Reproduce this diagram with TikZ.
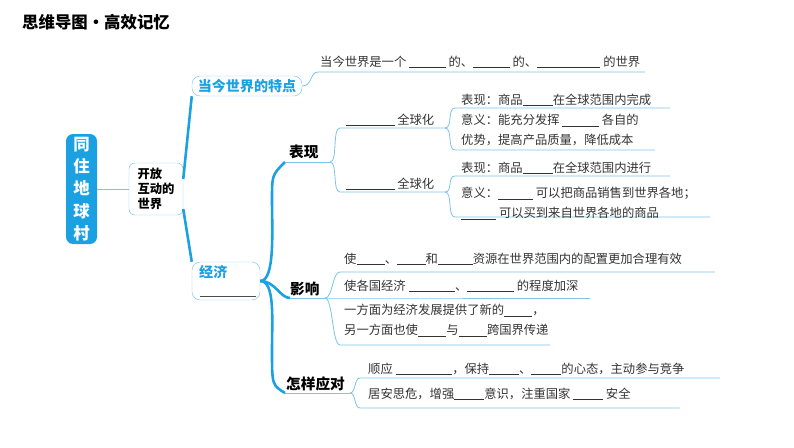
\documentclass[tikz,border=0pt]{standalone}
\usepackage{fontspec}
\setmainfont{Noto Sans CJK SC}
\newcommand{\bl}[1]{\rule[-1.5pt]{#1}{0.5pt}}
\definecolor{tblue}{HTML}{1BA1E2}
\definecolor{lblue}{HTML}{7CC4E8}
\tikzset{
  txt/.style={anchor=base west,inner sep=0pt,font=\fontsize{10.5}{17}\selectfont,align=left,text=black!80},
  txtm/.style={txt,anchor=north west},
  lbl/.style={anchor=base west,inner sep=0pt,font=\fontsize{12.5}{15}\selectfont\bfseries,text=black},
  thin/.style={draw=lblue,line width=0.7pt},
  thick/.style={draw=tblue,line width=2.2pt},
}
\begin{document}
\begin{tikzpicture}[x=0.03cm,y=-0.03cm]
\useasboundingbox (0,0) rectangle (794,447);
\node[anchor=west,inner sep=0pt,font=\fontsize{14}{16}\selectfont\bfseries] (title) at (22,22) {思维导图·高效记忆};
% root
\node[fill=tblue,text=white,rounded corners=6pt,minimum width=0.93cm,minimum height=3.3cm,align=center,font=\fontsize{14}{19}\selectfont\bfseries,inner sep=0pt] (root) at (81.5,189) {同\\住\\地\\球\\村};
\node[draw=lblue,rounded corners=5pt,minimum width=1.62cm,minimum height=1.56cm,align=left,font=\fontsize{10.5}{13}\selectfont\bfseries,inner sep=2pt] (open) at (156,189) {开放\\互动的\\世界};
\draw[thin] (root.east) -- (open.west);
% top-level branches
\node[draw=lblue,rounded corners=7pt,minimum width=3.3cm,minimum height=0.6cm,text=tblue,font=\fontsize{12}{14}\selectfont\bfseries,inner sep=0pt] (feat) at (247,86) {当今世界的特点};
\node[draw=lblue,rounded corners=7pt,minimum width=2.04cm,minimum height=1.14cm,inner sep=0pt] (econ) at (226,281) {};
\node[anchor=north west,text=tblue,font=\fontsize{12}{14}\selectfont\bfseries,inner sep=0pt] (econt) at (199,265) {经济};
\coordinate (eb1) at (200,296); \coordinate (eb2) at (256,296);
\draw[black!70,line width=0.6pt] (eb1) -- (eb2);
\draw[thick] ([yshift=0.3cm]open.east) -- (feat.south west);
\draw[thick] ([yshift=-0.6cm]open.east) -- (econ.north west);
% feature sentence
\coordinate (f1) at (318,72); \coordinate (f2) at (645,72);
\draw[thin] (feat.east) .. controls +(10,0) and +(-8,0) .. (f1) -- (f2);
\node[txt] (fs) at (320,66) {当今世界是一个 \bl{1.1cm} 的、\bl{1.1cm} 的、\bl{1.9cm} 的世界};
% economy trunk
\coordinate (bx1) at (285,162); \coordinate (bx2) at (330,162);
\coordinate (yx1) at (290,298); \coordinate (yx2) at (325,298);
\coordinate (zx1) at (285,393); \coordinate (zx2) at (350,393);
\draw[thick] (econ.east) .. controls +(15,0) and +(0,30) .. (272,200) .. controls (272,175) .. (bx1);
\draw[thick] (econ.east) .. controls +(15,0) and +(-10,0) .. (yx1);
\draw[thick] (econ.east) .. controls +(15,0) and +(0,-30) .. (272,350) .. controls (272,385) .. (zx1);
\draw[thin] (bx1) -- (bx2); \draw[thin] (yx1) -- (yx2); \draw[thin] (zx1) -- (zx2);
\node[lbl] (bx) at (289,157) {表现};
\node[lbl] (yx) at (290,294) {影响};
\node[lbl] (zy) at (286,389) {怎样应对};
% biaoxian sub
\coordinate (g1a) at (340,128); \coordinate (g1b) at (445,128);
\coordinate (g2a) at (340,192); \coordinate (g2b) at (445,192);
\draw[thin] (bx2) .. controls +(8,0) and +(-8,0) .. (g1a) -- (g1b);
\draw[thin] (bx2) .. controls +(8,0) and +(-8,0) .. (g2a) -- (g2b);
\node[txt] (g1) at (346,124) {\bl{1.45cm} 全球化};
\node[txt] (g2) at (346,188) {\bl{1.45cm} 全球化};
\coordinate (h1a) at (455,108); \coordinate (h1b) at (670,108);
\coordinate (h2a) at (455,150); \coordinate (h2b) at (655,150);
\coordinate (h3a) at (455,176); \coordinate (h3b) at (670,176);
\coordinate (h4a) at (455,217); \coordinate (h4b) at (710,217);
\draw[thin] (g1b) .. controls +(8,0) and +(-8,0) .. (h1a) -- (h1b);
\draw[thin] (g1b) .. controls +(8,0) and +(-8,0) .. (h2a) -- (h2b);
\draw[thin] (g2b) .. controls +(8,0) and +(-8,0) .. (h3a) -- (h3b);
\draw[thin] (g2b) .. controls +(8,0) and +(-8,0) .. (h4a) -- (h4b);
\node[txt] (t1) at (461,104) {表现：商品\bl{0.9cm}在全球范围内完成};
\node[txtm] (t2) at (461,114) {意义：能充分发挥 \bl{1.1cm} 各自的\\优势，提高产品质量，降低成本};
\node[txt] (t3) at (461,172) {表现：商品\bl{0.9cm}在全球范围内进行};
\node[txtm] (t4) at (461,187) {意义：\bl{1.05cm} 可以把商品销售到世界各地；\\\bl{1.05cm} 可以买到来自世界各地的商品};
% yingxiang sub
\coordinate (k1a) at (340,272); \coordinate (k1b) at (715,272);
\coordinate (k2a) at (338,298); \coordinate (k2b) at (590,298);
\coordinate (k3a) at (340,345); \coordinate (k3b) at (550,345);
\draw[thin] (yx2) .. controls +(8,0) and +(-8,0) .. (k1a) -- (k1b);
\draw[thin] (yx2) -- (k2a) -- (k2b);
\draw[thin] (yx2) .. controls +(8,0) and +(-8,0) .. (k3a) -- (k3b);
\node[txt] (u1) at (344,263) {使\bl{0.85cm}、\bl{0.85cm}和\bl{1.05cm}资源在世界范围内的配置更加合理有效};
\node[txt] (u2) at (344,290) {使各国经济 \bl{1.4cm}、\bl{1.4cm} 的程度加深};
\node[txtm] (u3) at (344,304) {一方面为经济发展提供了新的\bl{0.85cm}，\\另一方面也使\bl{0.85cm}与\bl{0.85cm}跨国界传递};
% yingdui sub
\coordinate (v1a) at (360,378); \coordinate (v1b) at (720,378);
\coordinate (v2a) at (360,408); \coordinate (v2b) at (680,408);
\draw[thin] (zx2) .. controls +(6,0) and +(-6,0) .. (v1a) -- (v1b);
\draw[thin] (zx2) .. controls +(6,0) and +(-6,0) .. (v2a) -- (v2b);
\node[txt] (w1) at (368,373) {顺应 \bl{1.7cm}，保持\bl{0.9cm}、\bl{0.9cm}的心态，主动参与竞争};
\node[txt] (w2) at (368,398) {居安思危，增强\bl{0.9cm}意识，注重国家 \bl{0.9cm} 安全};
\end{tikzpicture}
\end{document}
